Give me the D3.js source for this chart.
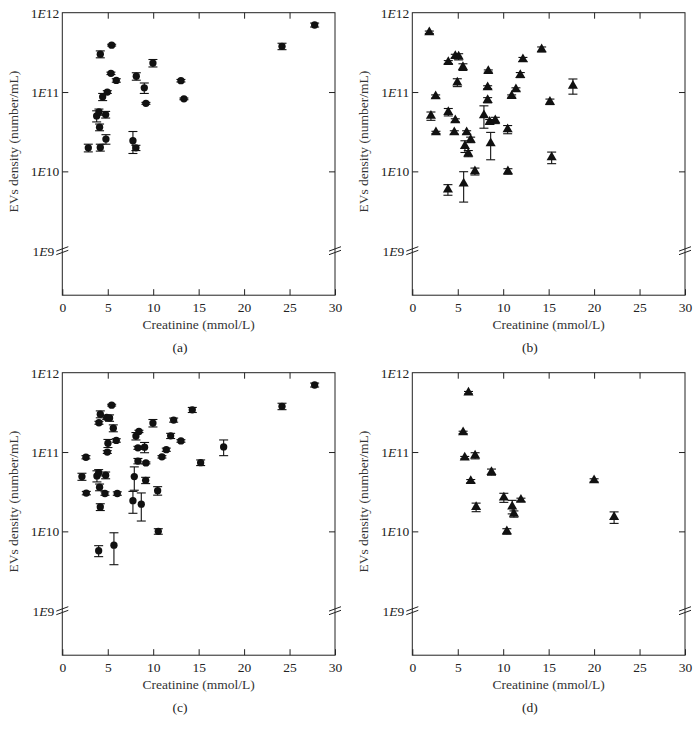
<!DOCTYPE html>
<html>
<head>
<meta charset="utf-8">
<script src="https://cdn.jsdelivr.net/npm/d3@7"></script>
<style>
  body { margin: 0; background: #fff; }
  svg text { font-family: "Liberation Serif", "Times New Roman", serif; }
</style>
</head>
<body>
<svg id="chart" width="700" height="736"></svg>
<script>
// Panel (a) - circles
const creatA = [2.86, 4.18, 5.43, 5.35, 5.94, 4.95, 4.44, 3.78, 4.03, 4.77, 4.1, 4.18, 4.8, 7.77, 8.1, 8.14, 9.02, 9.2, 9.97, 13.05, 13.38, 24.17, 27.76];
const densA  = [1.98e10, 3.0e11, 3.9e11, 1.72e11, 1.40e11, 1.0e11, 8.7e10, 5.0e10, 5.6e10, 5.2e10, 3.6e10, 2.0e10, 2.55e10, 2.43e10, 1.98e10, 1.58e11, 1.13e11, 7.2e10, 2.32e11, 1.39e11, 8.2e10, 3.77e11, 7.0e11];
const sdA    = [0.22e10, 0.3e11, 0.1e11, 0.06e11, 0.07e11, 0.04e11, 0.9e10, 0.8e10, 0.5e10, 0.5e10, 0.35e10, 0.2e10, 0.35e10, 0.75e10, 0.15e10, 0.17e11, 0.17e11, 0.2e10, 0.25e11, 0.05e11, 0.2e10, 0.35e11, 0.4e11];

// Panel (b) - triangles
const creatB = [1.87, 3.96, 4.73, 5.1, 5.57, 4.95, 2.57, 2.05, 2.6, 3.96, 4.73, 4.62, 5.98, 6.42, 5.79, 6.16, 6.89, 3.92, 5.65, 8.36, 8.29, 8.29, 7.88, 8.51, 9.13, 8.62, 10.49, 10.52, 10.93, 11.4, 11.88, 12.17, 14.23, 15.14, 15.33, 17.67];
const densB  = [5.67e11, 2.39e11, 2.84e11, 2.79e11, 2.07e11, 1.32e11, 8.8e10, 5.0e10, 3.1e10, 5.6e10, 4.4e10, 3.1e10, 3.1e10, 2.5e10, 2.08e10, 1.68e10, 1.0e10, 5.9e9, 7.0e9, 1.84e11, 1.15e11, 7.9e10, 5.1e10, 4.2e10, 4.4e10, 2.25e10, 3.38e10, 1.0e10, 8.9e10, 1.08e11, 1.64e11, 2.58e11, 3.45e11, 7.55e10, 1.5e10, 1.2e11];
const sdB    = [0.2e11, 0.1e11, 0.15e11, 0.25e11, 0.2e11, 0.15e11, 0.4e10, 0.6e10, 0.1e10, 0.6e10, 0.2e10, 0.15e10, 0.15e10, 0.2e10, 0.35e10, 0.15e10, 0.1e10, 0.9e9, 2.9e9, 0.06e11, 0.05e11, 0.6e10, 1.6e10, 0.3e10, 0.4e10, 0.85e10, 0.4e10, 0.08e10, 0.3e10, 0.05e11, 0.12e11, 0.15e11, 0.25e11, 0.6e10, 0.25e10, 0.26e11];

// Panel (c) - circles
const creatC = [2.16, 2.6, 2.64, 4.03, 4.18, 5.43, 4.88, 5.2, 5.61, 5.94, 5.02, 4.95, 3.81, 4.0, 4.77, 4.1, 4.69, 4.18, 6.05, 4.0, 5.68, 7.77, 7.92, 8.69, 8.1, 8.43, 8.32, 8.32, 9.05, 9.2, 9.17, 9.97, 10.49, 10.56, 10.96, 11.44, 11.92, 12.25, 13.05, 14.3, 15.22, 17.75, 24.17, 27.76];
const densC  = [4.9e10, 8.6e10, 3.04e10, 2.34e11, 3.0e11, 3.9e11, 2.73e11, 2.69e11, 2.0e11, 1.4e11, 1.29e11, 1.0e11, 5.0e10, 5.5e10, 5.1e10, 3.6e10, 3.0e10, 2.03e10, 3.0e10, 5.7e9, 6.7e9, 2.44e10, 4.9e10, 2.2e10, 1.59e11, 1.82e11, 1.13e11, 7.7e10, 1.15e11, 7.3e10, 4.4e10, 2.32e11, 3.26e10, 1.0e10, 8.7e10, 1.07e11, 1.6e11, 2.53e11, 1.38e11, 3.4e11, 7.35e10, 1.16e11, 3.77e11, 7.0e11];
const sdC    = [0.5e10, 0.4e10, 0.15e10, 0.1e11, 0.3e11, 0.1e11, 0.15e11, 0.25e11, 0.2e11, 0.07e11, 0.15e11, 0.04e11, 0.8e10, 0.5e10, 0.5e10, 0.35e10, 0.15e10, 0.2e10, 0.15e10, 0.9e9, 2.9e9, 0.75e10, 1.6e10, 0.85e10, 0.17e11, 0.06e11, 0.05e11, 0.6e10, 0.17e11, 0.2e10, 0.4e10, 0.25e11, 0.4e10, 0.08e10, 0.3e10, 0.05e11, 0.12e11, 0.15e11, 0.05e11, 0.25e11, 0.6e10, 0.26e11, 0.35e11, 0.4e11];

// Panel (d) - triangles
const creatD = [6.18, 5.59, 5.77, 6.91, 6.43, 7.02, 8.71, 10.07, 10.99, 11.18, 11.95, 10.4, 20.0, 22.2];
const densD  = [5.6e11, 1.77e11, 8.5e10, 9.0e10, 4.3e10, 2.02e10, 5.6e10, 2.67e10, 2.06e10, 1.66e10, 2.5e10, 1.0e10, 4.4e10, 1.51e10];
const sdD    = [0.2e11, 0.06e11, 0.3e10, 0.8e10, 0.2e10, 0.25e10, 0.5e10, 0.35e10, 0.4e10, 0.15e10, 0.12e10, 0.08e10, 0.2e10, 0.25e10];

const xTicks = [0, 5, 10, 15, 20, 25, 30];
const yTicks = [1e9, 1e10, 1e11, 1e12];
const panelLabels = ["(a)", "(b)", "(c)", "(d)"];
const xTitle = "Creatinine (mmol/L)";
const yTitle = "EVs density (number/mL)";

const panels = [
    { xs: creatA, ys: densA, sd: sdA, shape: "circle", ox: 0, oy: 0 },
    { xs: creatB, ys: densB, sd: sdB, shape: "triangle", ox: 350, oy: 0 },
    { xs: creatC, ys: densC, sd: sdC, shape: "circle", ox: 0, oy: 360 },
    { xs: creatD, ys: densD, sd: sdD, shape: "triangle", ox: 350, oy: 360 }
];

const margin = { left: 62.3, top: 12.7 };
const width = 272.7;
const height = 282.5;
const ink = "#222";
const fontSize = 13.5;

const xScale = d3.scaleLinear().domain([0, 30]).range([0, width]);
// 1E9 sits at 238px below the top; the frame continues below the break
const yScale = d3.scaleLog().domain([1e9, 1e12]).range([238, 0]);

const svg = d3.select("#chart");

panels.forEach((p, i) => {
    const g = svg.append("g")
        .attr("transform", `translate(${p.ox + margin.left},${p.oy + margin.top})`);

    // frame
    g.append("rect")
        .attr("x", 0).attr("y", 0)
        .attr("width", width).attr("height", height)
        .attr("fill", "none")
        .attr("stroke", ink)
        .attr("stroke-width", 1);

    // bottom axis, ticks pointing in
    const bottom = g.append("g")
        .attr("transform", `translate(0,${height})`)
        .call(d3.axisBottom(xScale).tickValues(xTicks).tickSizeInner(-6).tickSizeOuter(0).tickPadding(7));
    // top ticks only
    const top = g.append("g")
        .call(d3.axisTop(xScale).tickValues(xTicks.slice(1, -1)).tickSizeInner(-6).tickSizeOuter(0).tickFormat(""));

    // left axis with 1E.. labels
    const left = g.append("g")
        .call(d3.axisLeft(yScale).tickValues(yTicks).tickSizeInner(-6).tickSizeOuter(0).tickPadding(3));
    left.selectAll(".tick text")
        .each(function(d) {
            const t = d3.select(this);
            t.text(null);
            if (d === 1e9) t.attr("x", -8);
            t.append("tspan").text("1");
            t.append("tspan").attr("font-style", "italic").text("E");
            t.append("tspan").text(Math.round(Math.log10(d)));
        });
    left.selectAll(".tick").filter(d => d === 1e9 || d === 1e12).select("line").remove();

    const right = g.append("g")
        .attr("transform", `translate(${width},0)`)
        .call(d3.axisRight(yScale).tickValues([1e10, 1e11]).tickSizeInner(-6).tickSizeOuter(0).tickFormat(""));

    [bottom, top, left, right].forEach(a => {
        a.select(".domain").remove();
        a.selectAll("line").attr("stroke", ink);
        a.selectAll("text")
            .attr("font-size", fontSize)
            .attr("font-family", "'Liberation Serif', 'Times New Roman', serif")
            .attr("fill", ink);
    });

    // axis break marks at 1E9
    const yb = yScale(1e9);
    [0, width].forEach(bx => {
        [-1.8, 1.8].forEach(off => {
            g.append("line")
                .attr("x1", bx - 6).attr("y1", yb + off + 2.2)
                .attr("x2", bx + 6).attr("y2", yb + off - 2.2)
                .attr("stroke", ink)
                .attr("stroke-width", 1);
        });
    });

    // titles
    g.append("text")
        .attr("x", width / 2)
        .attr("y", height + 34)
        .attr("text-anchor", "middle")
        .attr("font-size", fontSize)
        .attr("fill", "#333")
        .text(xTitle);

    g.append("text")
        .attr("transform", `translate(-44.5,129) rotate(-90)`)
        .attr("text-anchor", "middle")
        .attr("font-size", fontSize)
        .attr("fill", "#333")
        .text(yTitle);

    g.append("text")
        .attr("x", 180 - margin.left)
        .attr("y", height + 57)
        .attr("text-anchor", "middle")
        .attr("font-size", fontSize)
        .attr("fill", ink)
        .text(panelLabels[i]);

    // points
    const data = p.xs.map((xv, k) => ({ x: xv, y: p.ys[k], sd: p.sd[k] }));
    const cap = 4.5;

    const err = g.append("g").attr("stroke", "#111").attr("stroke-width", 1.1);
    data.forEach(d => {
        const cx = xScale(d.x);
        const yHi = yScale(d.y + d.sd);
        const yLo = yScale(Math.max(d.y - d.sd, 1e8));
        err.append("line").attr("x1", cx).attr("x2", cx).attr("y1", yHi).attr("y2", yLo);
        err.append("line").attr("x1", cx - cap).attr("x2", cx + cap).attr("y1", yHi).attr("y2", yHi);
        err.append("line").attr("x1", cx - cap).attr("x2", cx + cap).attr("y1", yLo).attr("y2", yLo);
    });

    const sym = d3.symbol()
        .type(p.shape === "circle" ? d3.symbolCircle : d3.symbolTriangle)
        .size(p.shape === "circle" ? 42 : 44);

    g.append("g")
        .selectAll("path")
        .data(data)
        .join("path")
        .attr("transform", d => `translate(${xScale(d.x)},${yScale(d.y)})`)
        .attr("d", sym)
        .attr("fill", "#111");
});
</script>
</body>
</html>
